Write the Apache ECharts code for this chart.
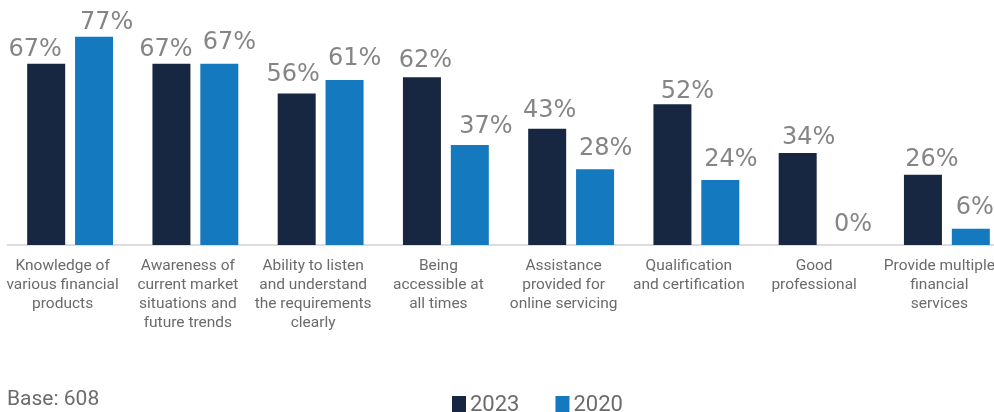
<!DOCTYPE html>
<html>
<head>
<meta charset="utf-8">
<script src="https://cdn.jsdelivr.net/npm/echarts@6/dist/echarts.min.js"></script>
<style>
  html, body { margin: 0; padding: 0; background: #fff; }
  #chart { width: 994px; height: 412px; }
</style>
</head>
<body>
<div id="chart"></div>
<script>
// Attributes valued in a financial advisor
const categories = [
  'Knowledge of\nvarious financial\nproducts',
  'Awareness of\ncurrent market\nsituations and\nfuture trends',
  'Ability to listen\nand understand\nthe requirements\nclearly',
  'Being\naccessible at\nall times',
  'Assistance\nprovided for\nonline servicing',
  'Qualification\nand certification',
  'Good\nprofessional',
  'Provide multiple\nfinancial\nservices'
];
const values2023 = [67, 67, 56, 62, 43, 52, 34, 26];
const values2020 = [77, 67, 61, 37, 28, 24, 0, 6];
const seriesNames = ['2023', '2020'];
const baseNote = 'Base: 608';

// Hand-placed value labels: horizontal nudge and gap above the bar (px)
const labelShift2023 = [-11, -5.5, -3.5, 3.5, 2.5, 15, 11, 9];
const labelGap2023   = [7, 7, 12, 9, 11, 6, 8, 8];
const labelShift2020 = [12.5, 10, 10, 16, 10.5, 10.5, 7.5, 4];
const labelGap2020   = [7, 14, 14, 11, 13, 13, 13, 14];

const FONT = 'Roboto';
const chart = echarts.init(document.getElementById('chart'), null, { renderer: 'canvas' });

const valueLabel = {
  show: true,
  position: 'top',
  formatter: p => p.value + '%',
  color: '#858585',
  fontFamily: 'DejaVu Sans',
  fontSize: 24,
  fontWeight: 'normal'
};

function withLabels(values, shifts, gaps) {
  return values.map((v, i) => ({
    value: v,
    label: { offset: [shifts[i], 0], distance: gaps[i] - 5 }
  }));
}

chart.setOption({
  animation: false,
  textStyle: { fontFamily: FONT },
  grid: { left: 7.5, width: 1002, top: 1.5, bottom: 167, containLabel: false, outerBoundsMode: 'none' },
  xAxis: {
    type: 'category',
    data: categories,
    axisTick: { show: false },
    axisLine: { lineStyle: { color: '#dcdcdc', width: 2 } },
    axisLabel: {
      interval: 0,
      margin: 12,
      color: '#6b6b6b',
      fontFamily: FONT,
      fontSize: 15.5,
      lineHeight: 19,
      padding: [0, 15, 0, 0]
    }
  },
  yAxis: {
    type: 'value',
    min: 0,
    max: 90,
    show: false,
    splitLine: { show: false }
  },
  legend: {
    data: seriesNames,
    left: 447,
    top: 389,
    itemWidth: 14,
    itemHeight: 18,
    itemGap: 36,
    icon: 'rect',
    textStyle: { color: '#6b6b6b', fontFamily: FONT, fontSize: 22, padding: [0, 0, 0, -1] }
  },
  graphic: [{
    type: 'text',
    left: 7,
    top: 389,
    style: { text: baseNote, fill: '#6b6b6b', font: '21px ' + FONT }
  }],
  series: [
    {
      name: seriesNames[0],
      type: 'bar',
      data: withLabels(values2023, labelShift2023, labelGap2023),
      barWidth: 38,
      barGap: '26%',
      itemStyle: { color: '#172741' },
      label: valueLabel
    },
    {
      name: seriesNames[1],
      type: 'bar',
      data: withLabels(values2020, labelShift2020, labelGap2020),
      barWidth: 38,
      itemStyle: { color: '#1479be' },
      label: valueLabel
    }
  ]
});
</script>
</body>
</html>
